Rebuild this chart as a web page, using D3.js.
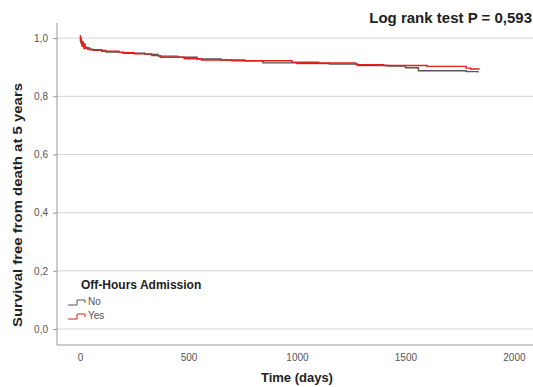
<!DOCTYPE html>
<html>
<head>
<meta charset="utf-8">
<script src="https://cdn.jsdelivr.net/npm/d3@7"></script>
<style>
body { margin: 0; background: #fff; }
svg { font-family: "Liberation Sans", Arial, sans-serif; }
.axis text { fill: #555; font-size: 10px; }
.axis path, .axis line { stroke: #999; }
.grid line { stroke: #d4d4d4; }
</style>
</head>
<body>
<svg width="533" height="387"></svg>
<script>
// Kaplan-Meier steps: [days, survival]
var noSteps = [[0,1.0],[5,0.985],[12,0.975],[20,0.968],[35,0.962],[60,0.958],[120,0.952],[200,0.948],
  [300,0.944],[360,0.938],[450,0.934],[540,0.928],[650,0.925],[760,0.922],[843,0.915],[1000,0.913],
  [1150,0.911],[1280,0.906],[1420,0.904],[1500,0.898],[1560,0.888],[1780,0.885],[1835,0.882]];
var yesSteps = [[0,1.0],[3,0.99],[8,0.98],[15,0.972],[25,0.966],[45,0.960],[100,0.955],[180,0.950],
  [250,0.946],[330,0.940],[370,0.934],[480,0.929],[560,0.925],[700,0.922],[977,0.917],[1100,0.915],
  [1270,0.909],[1400,0.906],[1600,0.903],[1780,0.897],[1800,0.894],[1840,0.893]];
var yesCensor = [2, 6, 10, 14, 19, 23];
var xTicks = [0, 500, 1000, 1500, 2000];
var yTicks = [0, 0.2, 0.4, 0.6, 0.8, 1.0];
var groups = ["No", "Yes"];
var colors = ["#555555", "#e3201b"];

var svg = d3.select("svg"),
    margin = {top: 23, right: 0, bottom: 42, left: 57},
    width = +svg.attr("width") - margin.left - margin.right,
    height = +svg.attr("height") - margin.top - margin.bottom;

var x = d3.scaleLinear().domain([-106, 2088]).range([0, width]),
    y = d3.scaleLinear().domain([-0.055, 1.052]).range([height, 0]);

var g = svg.append("g")
    .attr("transform", "translate(" + margin.left + "," + margin.top + ")");

g.append("g")
    .attr("class", "grid")
    .selectAll("line")
    .data(yTicks)
    .enter().append("line")
    .attr("x1", 0).attr("x2", width)
    .attr("y1", function(d) { return y(d); })
    .attr("y2", function(d) { return y(d); });

g.append("g")
    .attr("class", "axis axis--x")
    .attr("transform", "translate(0," + height + ")")
    .call(d3.axisBottom(x).tickValues(xTicks).tickSize(0).tickPadding(9).tickFormat(d3.format("d")))
    .call(function(a) { a.select(".domain").attr("d", "M0,0H" + width); });

g.append("g")
    .attr("class", "axis axis--y")
    .call(d3.axisLeft(y).tickValues(yTicks).tickSize(4).tickPadding(5)
      .tickFormat(function(d) { return d.toFixed(1).replace(".", ","); }))
    .call(function(a) { a.select(".domain").attr("d", "M0,0V" + height); });

var km = d3.line()
    .curve(d3.curveStepAfter)
    .x(function(d) { return x(d[0]); })
    .y(function(d) { return y(d[1]); });

[noSteps, yesSteps].forEach(function(s, i) {
  g.append("path")
    .attr("d", km(s))
    .attr("fill", "none")
    .attr("stroke", colors[i])
    .attr("stroke-width", 1.4);
});

function survAt(s, t) {
  var v = s[0][1];
  s.forEach(function(p) { if (p[0] <= t) v = p[1]; });
  return v;
}

g.selectAll(".censor")
    .data(yesCensor)
    .enter().append("line")
    .attr("x1", function(d) { return x(d); })
    .attr("x2", function(d) { return x(d); })
    .attr("y1", function(d) { return y(survAt(yesSteps, d)) - 3; })
    .attr("y2", function(d) { return y(survAt(yesSteps, d)) + 3; })
    .attr("stroke", colors[1])
    .attr("stroke-width", 1.5);

// legend
var leg = svg.append("g").attr("transform", "translate(68,289)");
leg.append("text")
    .attr("x", 13).attr("y", 0)
    .style("font-size", "12px").style("font-weight", "bold").attr("fill", "#222")
    .text("Off-Hours Admission");
groups.forEach(function(name, i) {
  var yy = 16 + i * 14;
  leg.append("path")
    .attr("d", "M0," + yy + "H9V" + (yy - 5) + "H17V" + (yy - 2))
    .attr("fill", "none").attr("stroke", colors[i]).attr("stroke-width", 1);
  leg.append("text")
    .attr("x", 20).attr("y", yy)
    .style("font-size", "10px").attr("fill", "#555")
    .text(name);
});

svg.append("text")
    .attr("x", 532).attr("y", 23)
    .attr("text-anchor", "end")
    .style("font-size", "15px").style("font-weight", "bold").attr("fill", "#222")
    .text("Log rank test P = 0,593");

svg.append("text")
    .attr("x", margin.left + x(1000)).attr("y", 382)
    .attr("text-anchor", "middle")
    .style("font-size", "13px").style("font-weight", "bold").attr("fill", "#222")
    .text("Time (days)");

svg.append("text")
    .attr("transform", "translate(22,205) rotate(-90)")
    .attr("text-anchor", "middle")
    .attr("textLength", 244).attr("lengthAdjust", "spacingAndGlyphs")
    .style("font-size", "13px").style("font-weight", "bold").attr("fill", "#222")
    .text("Survival free from death at 5 years");
</script>
</body>
</html>
